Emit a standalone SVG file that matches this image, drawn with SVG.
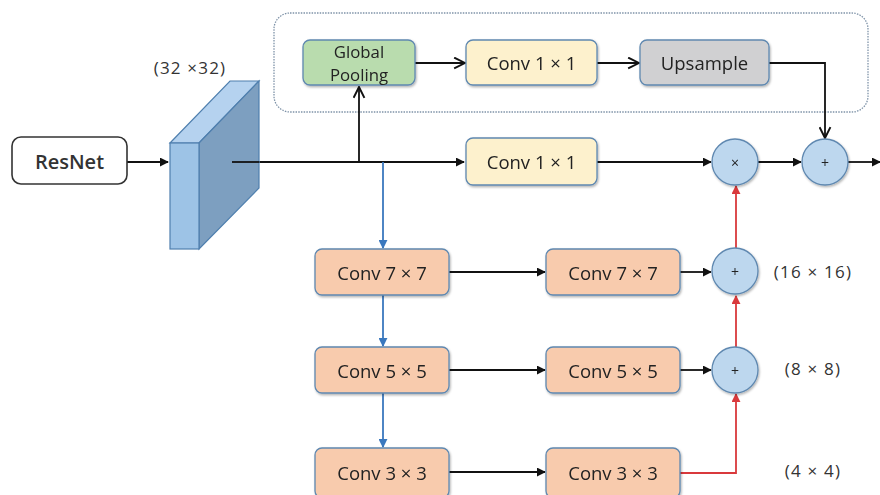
<svg xmlns="http://www.w3.org/2000/svg" width="880" height="495" viewBox="0 0 880 495">
<style>
.box{stroke:#5f88b0;stroke-width:1.3;}
.t{font-family:"Open Sans","Liberation Sans",sans-serif;font-size:18.5px;font-weight:500;fill:#222;text-anchor:middle;dominant-baseline:central;}
.lbl{font-family:"Open Sans","Liberation Sans",sans-serif;font-size:17px;font-weight:500;letter-spacing:1.2px;fill:#333;text-anchor:middle;dominant-baseline:central;}
.k{stroke:#111;stroke-width:1.8;fill:none;}
.b{stroke:#3a78be;stroke-width:1.8;fill:none;}
.r{stroke:#d9393c;stroke-width:1.8;fill:none;}
.circ{fill:#bdd7ee;stroke:#5f88b0;stroke-width:1.3;}
.yel{fill:#fdf1cd;}
.org{fill:#f8cbad;}
</style>
<defs>
<filter id="sh" x="-10%" y="-10%" width="130%" height="140%">
<feDropShadow dx="1" dy="1.5" stdDeviation="1" flood-color="#000" flood-opacity="0.3"/>
</filter>
<marker id="ak" viewBox="0 0 10 10" refX="9" refY="5" markerWidth="9" markerHeight="9" markerUnits="userSpaceOnUse" orient="auto"><path d="M0,0 L10,5 L0,10 z" fill="#111"/></marker>
<marker id="ao" viewBox="0 0 12 12" refX="11" refY="6" markerWidth="13" markerHeight="13" markerUnits="userSpaceOnUse" orient="auto"><path d="M1,1 L11,6 L1,11" fill="none" stroke="#111" stroke-width="1.8"/></marker>
<marker id="ab" viewBox="0 0 10 10" refX="9" refY="5" markerWidth="9" markerHeight="9" markerUnits="userSpaceOnUse" orient="auto"><path d="M0,0 L10,5 L0,10 z" fill="#3a78be"/></marker>
<marker id="ar" viewBox="0 0 10 10" refX="9" refY="5" markerWidth="9" markerHeight="9" markerUnits="userSpaceOnUse" orient="auto"><path d="M0,0 L10,5 L0,10 z" fill="#d9393c"/></marker>
</defs>
<rect width="880" height="495" fill="#fff"/>

<rect x="274" y="13" width="594" height="99" rx="16" fill="none" stroke="#7f93a8" stroke-width="1.3" stroke-dasharray="1.5 1.2"/>

<g id="connectors">
<line class="k" x1="127" y1="162" x2="168" y2="162" marker-end="url(#ak)"/>
<line class="k" x1="232" y1="162" x2="464" y2="162" marker-end="url(#ak)"/>
<line class="k" x1="359" y1="162" x2="359" y2="87" marker-end="url(#ao)"/>
<line class="b" x1="383" y1="162" x2="383" y2="248" marker-end="url(#ab)"/>
<line class="b" x1="383" y1="295" x2="383" y2="346" marker-end="url(#ab)"/>
<line class="b" x1="383" y1="393" x2="383" y2="447" marker-end="url(#ab)"/>
<line class="k" x1="415" y1="63" x2="465" y2="63" marker-end="url(#ao)"/>
<line class="k" x1="597" y1="63" x2="639" y2="63" marker-end="url(#ao)"/>
<polyline class="k" points="769,63 825,63 825,138" marker-end="url(#ao)"/>
<line class="k" x1="597" y1="162" x2="711" y2="162" marker-end="url(#ak)"/>
<line class="k" x1="758" y1="162" x2="801" y2="162" marker-end="url(#ak)"/>
<line class="k" x1="848" y1="162" x2="880" y2="162" marker-end="url(#ak)"/>
<line class="k" x1="449" y1="272" x2="545" y2="272" marker-end="url(#ak)"/>
<line class="k" x1="449" y1="370" x2="545" y2="370" marker-end="url(#ak)"/>
<line class="k" x1="449" y1="472" x2="545" y2="472" marker-end="url(#ak)"/>
<line class="k" x1="680" y1="272" x2="711" y2="272" marker-end="url(#ak)"/>
<line class="k" x1="680" y1="370" x2="711" y2="370" marker-end="url(#ak)"/>
<polyline class="r" points="680,473 736,473 736,394" marker-end="url(#ar)"/>
<line class="r" x1="736" y1="347" x2="736" y2="296" marker-end="url(#ar)"/>
<line class="r" x1="736" y1="248" x2="736" y2="186" marker-end="url(#ar)"/>
</g>

<g id="resnet">
<rect x="12" y="137" width="115" height="47" rx="9" fill="#fff" stroke="#333" stroke-width="1.6"/>
<text class="t" x="69.5" y="161" style="font-size:20px;font-weight:600;fill:#333">ResNet</text>
</g>

<g id="feature">
<polygon points="170,143 230,81 259,81 199,143" fill="#b5d2ef" stroke="#4f7fae" stroke-width="1.2"/>
<polygon points="199,143 259,81 259,188 199,249" fill="#7d9fc0" stroke="#4f7fae" stroke-width="1.2"/>
<rect x="170" y="143" width="29" height="106" fill="#9dc3e6" stroke="#4f7fae" stroke-width="1.2"/>
<line class="k" x1="232" y1="162" x2="259" y2="162"/>
<text class="lbl" x="190" y="67">(32 ×32)</text>
</g>

<g id="gp" filter="url(#sh)">
<rect class="box" x="303" y="40" width="112" height="45" rx="7" fill="#b9dcae"/>
<text class="t" x="359" y="51" style="font-size:16.8px">Global</text>
<text class="t" x="359" y="74" style="font-size:16.8px">Pooling</text>
</g>
<g id="conv1top" filter="url(#sh)">
<rect class="box yel" x="466" y="40" width="131" height="45" rx="7"/>
<text class="t" x="531.5" y="62.5">Conv 1 × 1</text>
</g>
<g id="upsample" filter="url(#sh)">
<rect class="box" x="640" y="40" width="129" height="45" rx="7" fill="#d0d0d2"/>
<text class="t" x="704.5" y="62.5">Upsample</text>
</g>
<g id="conv1mid" filter="url(#sh)">
<rect class="box yel" x="466" y="138" width="131" height="47" rx="7"/>
<text class="t" x="531.5" y="161.5">Conv 1 × 1</text>
</g>

<g id="mul" filter="url(#sh)">
<circle class="circ" cx="735" cy="162" r="23"/>
<text class="t" x="735" y="162" style="font-size:14px">×</text>
</g>
<g id="add0" filter="url(#sh)">
<circle class="circ" cx="825" cy="162" r="23"/>
<text class="t" x="825" y="162" style="font-size:14px">+</text>
</g>
<g id="add1" filter="url(#sh)">
<circle class="circ" cx="735" cy="271" r="23"/>
<text class="t" x="735" y="271" style="font-size:14px">+</text>
</g>
<g id="add2" filter="url(#sh)">
<circle class="circ" cx="735" cy="370" r="23"/>
<text class="t" x="735" y="370" style="font-size:14px">+</text>
</g>

<g id="c7a" filter="url(#sh)">
<rect class="box org" x="315" y="249" width="134" height="46" rx="7"/>
<text class="t" x="382" y="272">Conv 7 × 7</text>
</g>
<g id="c7b" filter="url(#sh)">
<rect class="box org" x="546" y="249" width="134" height="46" rx="7"/>
<text class="t" x="613" y="272">Conv 7 × 7</text>
</g>
<g id="c5a" filter="url(#sh)">
<rect class="box org" x="315" y="347" width="134" height="46" rx="7"/>
<text class="t" x="382" y="370">Conv 5 × 5</text>
</g>
<g id="c5b" filter="url(#sh)">
<rect class="box org" x="546" y="347" width="134" height="46" rx="7"/>
<text class="t" x="613" y="370">Conv 5 × 5</text>
</g>
<g id="c3a" filter="url(#sh)">
<rect class="box org" x="315" y="448" width="134" height="50" rx="7"/>
<text class="t" x="382" y="472">Conv 3 × 3</text>
</g>
<g id="c3b" filter="url(#sh)">
<rect class="box org" x="546" y="448" width="134" height="50" rx="7"/>
<text class="t" x="613" y="472">Conv 3 × 3</text>
</g>

<g id="labels">
<text class="lbl" x="813" y="271">(16 × 16)</text>
<text class="lbl" x="813" y="368">(8 × 8)</text>
<text class="lbl" x="813" y="470">(4 × 4)</text>
</g>
</svg>
